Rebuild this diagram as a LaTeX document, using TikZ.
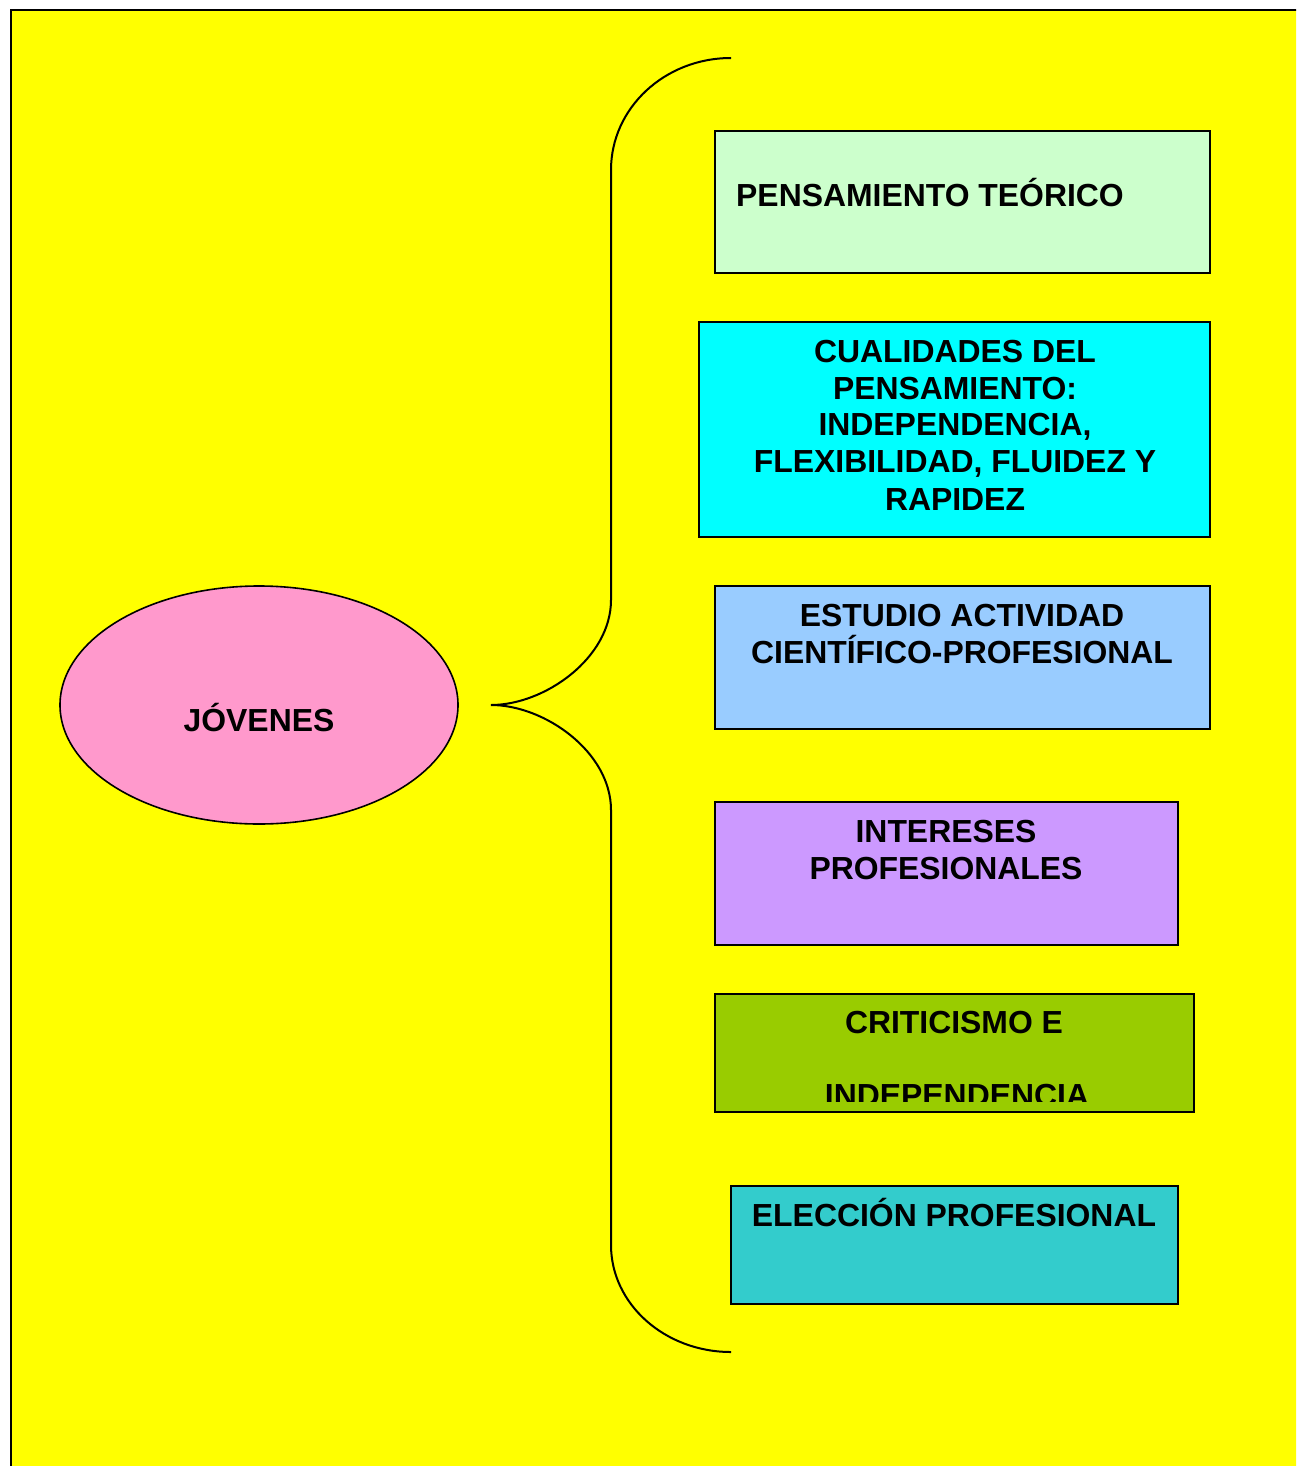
\documentclass[tikz,border=0pt]{standalone}
\usepackage{fontspec}
\setmainfont{Liberation Sans}
\usetikzlibrary{shapes.geometric}
\definecolor{bgyellow}{HTML}{FFFF00}
\definecolor{pinkfill}{HTML}{FF99CC}
\definecolor{mintfill}{HTML}{CCFFCC}
\definecolor{cyanfill}{HTML}{00FFFF}
\definecolor{skyfill}{HTML}{99CCFF}
\definecolor{lilacfill}{HTML}{CC99FF}
\definecolor{olivefill}{HTML}{99CC00}
\definecolor{tealfill}{HTML}{33CCCC}
\tikzset{
  panel/.style={draw=black, line width=1.6pt, rectangle, inner sep=0pt, anchor=north west},
  label/.style={font=\fontsize{31.9}{37}\selectfont\bfseries, inner sep=0pt, anchor=base, align=center},
  bracket/.style={draw=black, line width=2pt}
}
\begin{document}
\begin{tikzpicture}[x=1pt,y=-1pt]
\useasboundingbox (0,0) rectangle (1296,1466);
\begin{scope}
  \clip (0,0) rectangle (1296,1466);
  \fill[white] (0,0) rectangle (1296,1466);
  \filldraw[fill=bgyellow, draw=black, line width=2pt] (11,10) rectangle (1320,1490);
\end{scope}

% central idea
\node[ellipse, draw=black, line width=1.6pt, fill=pinkfill,
      minimum width=398pt, minimum height=238pt, inner sep=0pt] (jov) at (259,705) {};
\node[label] (jovtxt) at (259,731) {JÓVENES};

% curly bracket
\coordinate (btop) at (731,58);
\coordinate (btip) at (491,705);
\coordinate (bbot) at (731,1352);
\draw[bracket] (btop) .. controls (664.7,58) and (611,108) .. (611,170)
  -- (611,600) .. controls (611,658) and (544.7,705) .. (btip)
  .. controls (544.7,705) and (611,752) .. (611,810)
  -- (611,1245) .. controls (611,1304) and (664.7,1352) .. (bbot);

% boxes
\node[panel, fill=mintfill,  minimum width=495pt, minimum height=142pt] (b1) at (714,130) {};
\node[panel, fill=cyanfill,  minimum width=511pt, minimum height=215pt] (b2) at (698,321) {};
\node[panel, fill=skyfill,   minimum width=495pt, minimum height=143pt] (b3) at (714,585) {};
\node[panel, fill=lilacfill, minimum width=463pt, minimum height=143pt] (b4) at (714,801) {};
\node[panel, fill=olivefill, minimum width=479pt, minimum height=118pt] (b5) at (714,993) {};
\node[panel, fill=tealfill,  minimum width=447pt, minimum height=118pt] (b6) at (730,1185) {};

% box texts
\node[label, anchor=base west] (t1) at (736,207) {PENSAMIENTO TEÓRICO};
\node[label] (t2a) at (955,362) {CUALIDADES DEL};
\node[label] (t2b) at (955,399) {PENSAMIENTO:};
\node[label] (t2c) at (955,435) {INDEPENDENCIA,};
\node[label] (t2d) at (955,472) {FLEXIBILIDAD, FLUIDEZ Y};
\node[label] (t2e) at (955,510) {RAPIDEZ};
\node[label] (t3a) at (962,626) {ESTUDIO ACTIVIDAD};
\node[label] (t3b) at (962,663) {CIENTÍFICO-PROFESIONAL};
\node[label] (t4a) at (946,842) {INTERESES};
\node[label] (t4b) at (946,879) {PROFESIONALES};
\node[label] (t5a) at (954,1033) {CRITICISMO E};
\begin{scope}
  \clip (714,1000) rectangle (1194,1101);
  \node[label] (t5b) at (957,1106) {INDEPENDENCIA};
\end{scope}
\node[label] (t6) at (954,1226) {ELECCIÓN PROFESIONAL};
\end{tikzpicture}
\end{document}
